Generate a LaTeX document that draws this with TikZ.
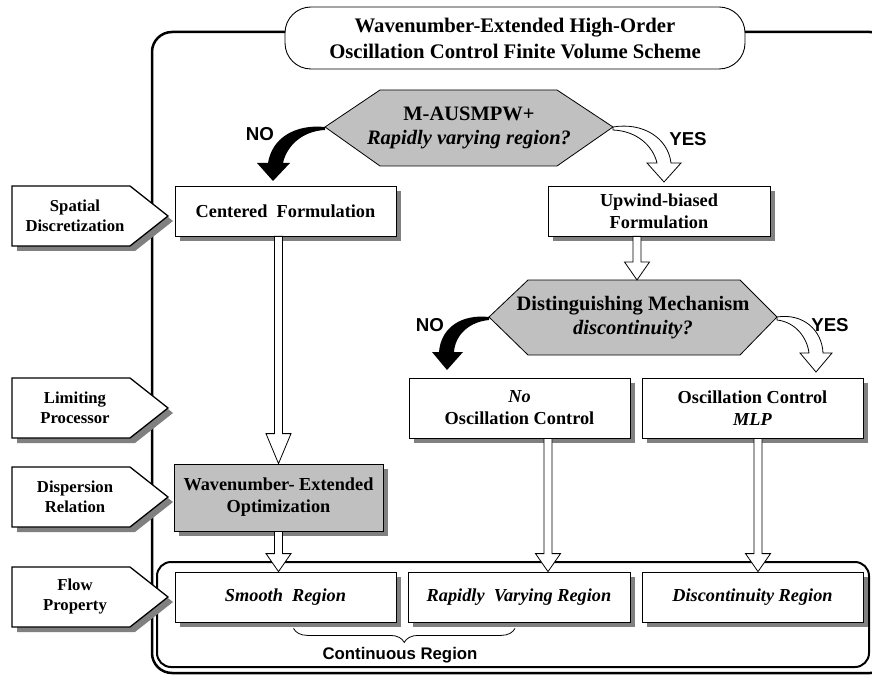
\documentclass[tikz,border=0pt]{standalone}
\usepackage{fontspec}
\setmainfont{Liberation Serif}
\newfontfamily\sansb{Liberation Sans}
\usetikzlibrary{calc,shadows,decorations.pathreplacing}
\definecolor{shgray}{HTML}{808080}
\definecolor{hexgray}{HTML}{C0C0C0}
\newcommand\vopen[3]{\draw[openarr] let \p1=(#1), \p2=(#2) in
  (\x2-4pt,\y1) -- (\x2-4pt,\y2+#3) -- (\x2-12.5pt,\y2+#3) -- (\x2,\y2) --
  (\x2+12.5pt,\y2+#3) -- (\x2+4pt,\y2+#3) -- (\x2+4pt,\y1) -- cycle;}
\newcommand\labtag[3]{%
  \begin{scope}[shift={(0,#1)}]
    \fill[shgray] (17,-25) -- (135,-25) -- (173,5) -- (135,35) -- (17,35) -- cycle;
    \draw[fill=white, line width=1.3pt, line join=miter] (12,-30) -- (130,-30) -- (168,0) -- (130,30) -- (12,30) -- cycle;
    \node[lab] (#2) at (75,0) {#3};
  \end{scope}}
\begin{document}
\begin{tikzpicture}[x=1pt,y=-1pt,
  box/.style={draw, line width=0.8pt, fill=white, align=center, inner sep=0pt,
    font=\fontsize{18.3}{22}\selectfont\bfseries,
    general shadow={fill=shgray, shadow xshift=5pt, shadow yshift=-5pt}},
  lab/.style={align=center, inner sep=0pt, font=\fontsize{16.7}{20}\selectfont\bfseries},
  hexs/.style={draw, fill=hexgray, line width=0.8pt, line join=miter},
  hextext/.style={align=center, inner sep=0pt, font=\fontsize{20.5}{24}\selectfont\bfseries},
  yn/.style={inner sep=0pt, font=\sansb\bfseries\fontsize{18.7}{20}\selectfont},
  openarr/.style={draw, fill=white, line width=0.8pt, line join=miter},
  blackarr/.style={fill=black},
  whitearr/.style={draw, fill=white, line width=0.8pt, line join=miter}]
\useasboundingbox (0,0) rectangle (872,676);
\fill[white] (0,0) rectangle (872,676);
% frames
\draw[line width=2.5pt, rounded corners=20pt] (152,32) rectangle (890,673);
\draw[line width=2pt, rounded corners=14pt] (157,562) rectangle (869,667);
% title
\node[draw, fill=white, rounded corners=26pt, minimum width=460pt, minimum height=62pt,
  line width=0.9pt, align=center, inner sep=0pt,
  font=\fontsize{20.7}{26}\selectfont\bfseries] (title) at (515,38)
  {Wavenumber-Extended High-Order\\Oscillation Control Finite Volume Scheme};
% hexagon 1
\draw[hexs] (325,127) -- (380,90) -- (557,90) -- (613,127) -- (557,166) -- (380,166) -- cycle;
\node[hextext] (h1) at (469,128) {M-AUSMPW+\\\textit{Rapidly varying region?}};
\coordinate (h1w) at (325,127);
\coordinate (h1e) at (613,127);
% hexagon 2
\draw[hexs] (489,317) -- (528,280) -- (740,280) -- (777,317) -- (740,355) -- (528,355) -- cycle;
\node[hextext] (h2) at (633,318) {Distinguishing Mechanism\\\textit{discontinuity?}};
\coordinate (h2w) at (489,317);
\coordinate (h2e) at (777,317);
\coordinate (h2top) at (637,280);
% boxes
\node[box, minimum width=221pt, minimum height=50pt] (cent) at (285.5,211) {Centered~ Formulation};
\node[box, minimum width=222pt, minimum height=50pt] (upw) at (659,211) {Upwind-biased\\Formulation};
\node[box, minimum width=221pt, minimum height=60pt] (noosc) at (519.5,408) {\textit{No}\\Oscillation Control};
\node[box, minimum width=221pt, minimum height=60pt] (mlp) at (752.5,408) {Oscillation Control\\\textit{MLP}};
\node[box, fill=hexgray, minimum width=209pt, minimum height=67pt] (wave) at (278.5,497.5) {Wavenumber- Extended\\Optimization};
\node[box, minimum width=221pt, minimum height=50pt] (smooth) at (285.5,597) {\textit{Smooth~ Region}};
\node[box, minimum width=222pt, minimum height=50pt] (rapid) at (519,597) {\textit{Rapidly~ Varying Region}};
\node[box, minimum width=221pt, minimum height=50pt] (disc) at (752.5,597) {\textit{Discontinuity Region}};
% straight open arrows
\vopen{cent.south -| wave.north}{wave.north}{30pt}
\vopen{wave.south}{smooth.north -| wave.south}{18pt}
\vopen{upw.south -| h2top}{h2top}{18pt}
\coordinate (a4) at ($(noosc.south)+(28.5,0)$);
\vopen{a4}{rapid.north -| a4}{18pt}
\coordinate (a5) at ($(mlp.south)+(5.5,0)$);
\vopen{a5}{disc.north -| a5}{18pt}
% curved arrows
\begin{scope}[shift={(h1w)}]
  \fill[blackarr] (0,0) .. controls (-30,-3) and (-53,11) .. (-57,36) -- (-68,36) -- (-52,54) -- (-35,36) -- (-42,36) .. controls (-38,18) and (-22,4) .. (0,3) -- cycle;
\end{scope}
\begin{scope}[shift={(h2w)}]
  \fill[blackarr] (0,0) .. controls (-27,-3) and (-48,10) .. (-50,35) -- (-57,35) -- (-42,53) -- (-26,35) -- (-35,35) .. controls (-34,19) and (-21,5) .. (0,3) -- cycle;
\end{scope}
\begin{scope}[shift={(h1e)}]
  \draw[whitearr] (0,0) .. controls (30,-5) and (55,11) .. (58,36) -- (68,36) -- (51,55) -- (34,36) -- (44,36) .. controls (40,19) and (24,4) .. (0,3) -- cycle;
\end{scope}
\begin{scope}[shift={(h2e)}]
  \draw[whitearr] (0,0) .. controls (26,-4) and (45,13) .. (46,36) -- (55,36) -- (39,55) -- (23,36) -- (32,36) .. controls (30,20) and (18,5) .. (0,3) -- cycle;
\end{scope}
\node[yn] (no1) at (260,134) {NO};
\node[yn] (yes1) at (688,139) {YES};
\node[yn] (no2) at (430,325) {NO};
\node[yn] (yes2) at (830,325) {YES};
% left tags
\labtag{216}{spat}{Spatial\\Discretization}
\labtag{408}{lim}{Limiting\\Processor}
\labtag{497}{disp}{Dispersion\\Relation}
\labtag{597}{flow}{Flow\\Property}
% brace
\draw[line width=0.8pt, decorate, decoration={brace, amplitude=14pt}]
  ($(rapid.south)+(-4,6)$) -- ($(smooth.south)+(8,6)$);
\node[inner sep=0pt, font=\sansb\bfseries\fontsize{16.8}{20}\selectfont] (cont) at (400,655) {Continuous Region};
\end{tikzpicture}
\end{document}
